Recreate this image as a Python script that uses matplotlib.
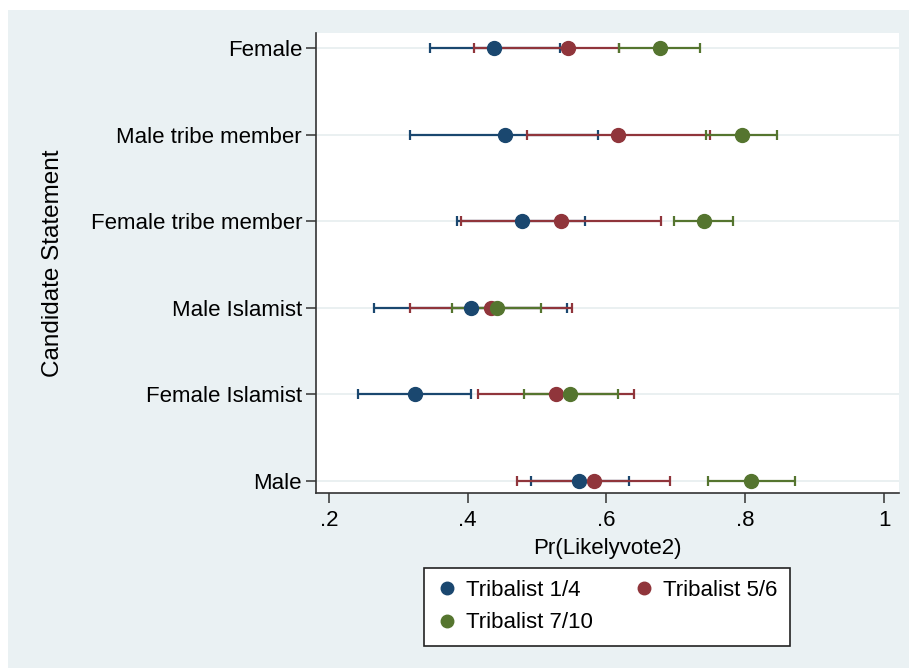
import matplotlib.pyplot as plt
from matplotlib.lines import Line2D
from matplotlib.patches import Rectangle

# candidate statements, top to bottom
statements = ["Female", "Male tribe member", "Female tribe member",
              "Male Islamist", "Female Islamist", "Male"]
groups = ["Tribalist 1/4", "Tribalist 5/6", "Tribalist 7/10"]
colors = ["#1A476F", "#90353B", "#55752F"]

# point estimates and CI bounds per group (same order as statements)
est_1_4 = [0.438, 0.453, 0.478, 0.404, 0.324, 0.561]
lo_1_4 = [0.345, 0.317, 0.385, 0.265, 0.242, 0.491]
hi_1_4 = [0.533, 0.588, 0.569, 0.543, 0.405, 0.633]

est_5_6 = [0.544, 0.617, 0.534, 0.433, 0.527, 0.582]
lo_5_6 = [0.409, 0.486, 0.391, 0.317, 0.415, 0.471]
hi_5_6 = [0.618, 0.749, 0.678, 0.551, 0.640, 0.692]

est_7_10 = [0.677, 0.795, 0.740, 0.442, 0.548, 0.809]
lo_7_10 = [0.618, 0.743, 0.698, 0.378, 0.481, 0.747]
hi_7_10 = [0.735, 0.846, 0.782, 0.505, 0.617, 0.872]

series = [(est_1_4, lo_1_4, hi_1_4),
          (est_5_6, lo_5_6, hi_5_6),
          (est_7_10, lo_7_10, hi_7_10)]

plt.rcParams['font.family'] = ['Liberation Sans', 'DejaVu Sans']

bg = "#EAF1F3"
fig = plt.figure(figsize=(9.09, 6.68), dpi=100, facecolor="white")
fig.patches.append(Rectangle((8 / 909, 0), 1, 1 - 10 / 668, transform=fig.transFigure,
                             facecolor=bg, edgecolor="none", zorder=-10))

ax = fig.add_axes([316 / 909, 1 - 493 / 668, (899 - 316) / 909, (493 - 33) / 668])
ax.set_facecolor("white")

ypos = list(range(len(statements), 0, -1))

for y in ypos:
    ax.axhline(y, color="#E6EDEF", lw=1.2, zorder=0)

for (est, lo, hi), col in zip(series, colors):
    xerr = [[e - l for e, l in zip(est, lo)], [h - e for e, h in zip(est, hi)]]
    ax.errorbar(est, ypos, xerr=xerr, fmt="o", color=col, ecolor=col,
                markersize=10, elinewidth=1.6, capsize=3.8, capthick=1.6, zorder=3)

ax.set_xlim(0.1813, 1.0216)
ax.set_ylim(0.861, 6.173)
ax.set_xticks([0.2, 0.4, 0.6, 0.8, 1.0])
ax.set_xticklabels([".2", ".4", ".6", ".8", "1"])
ax.set_yticks(ypos)
ax.set_yticklabels(statements)

for s in ["top", "right"]:
    ax.spines[s].set_visible(False)
for s in ["left", "bottom"]:
    ax.spines[s].set_color("#333333")
    ax.spines[s].set_linewidth(1.2)

ax.tick_params(axis="both", labelsize=16, length=7, width=1.1, color="#333333")
ax.tick_params(axis="x", pad=5)
ax.tick_params(axis="y", pad=3)

ax.set_xlabel("Pr(Likelyvote2)", fontsize=16, labelpad=5)
ax.set_ylabel("Candidate Statement", fontsize=17.5, labelpad=19)

# legend fills row by row: 1/4, 5/6 on top, 7/10 below
handles = [Line2D([], [], marker="o", linestyle="none", color=c, markersize=9)
           for c in colors]
order = [0, 2, 1]
leg = fig.legend([handles[i] for i in order], [groups[i] for i in order],
                 loc="upper center", ncol=2,
                 bbox_to_anchor=(607 / 909, 1 - 568 / 668), fontsize=16,
                 frameon=True, fancybox=False, edgecolor="#222222",
                 handletextpad=0.35, columnspacing=1.8, borderpad=0.55,
                 handlelength=1.0, labelspacing=0.5, borderaxespad=0)
leg.get_frame().set_linewidth(1.2)
leg.get_frame().set_facecolor("white")
leg.get_frame().set_alpha(1)

plt.savefig("out.png", dpi=100, facecolor=fig.get_facecolor())
